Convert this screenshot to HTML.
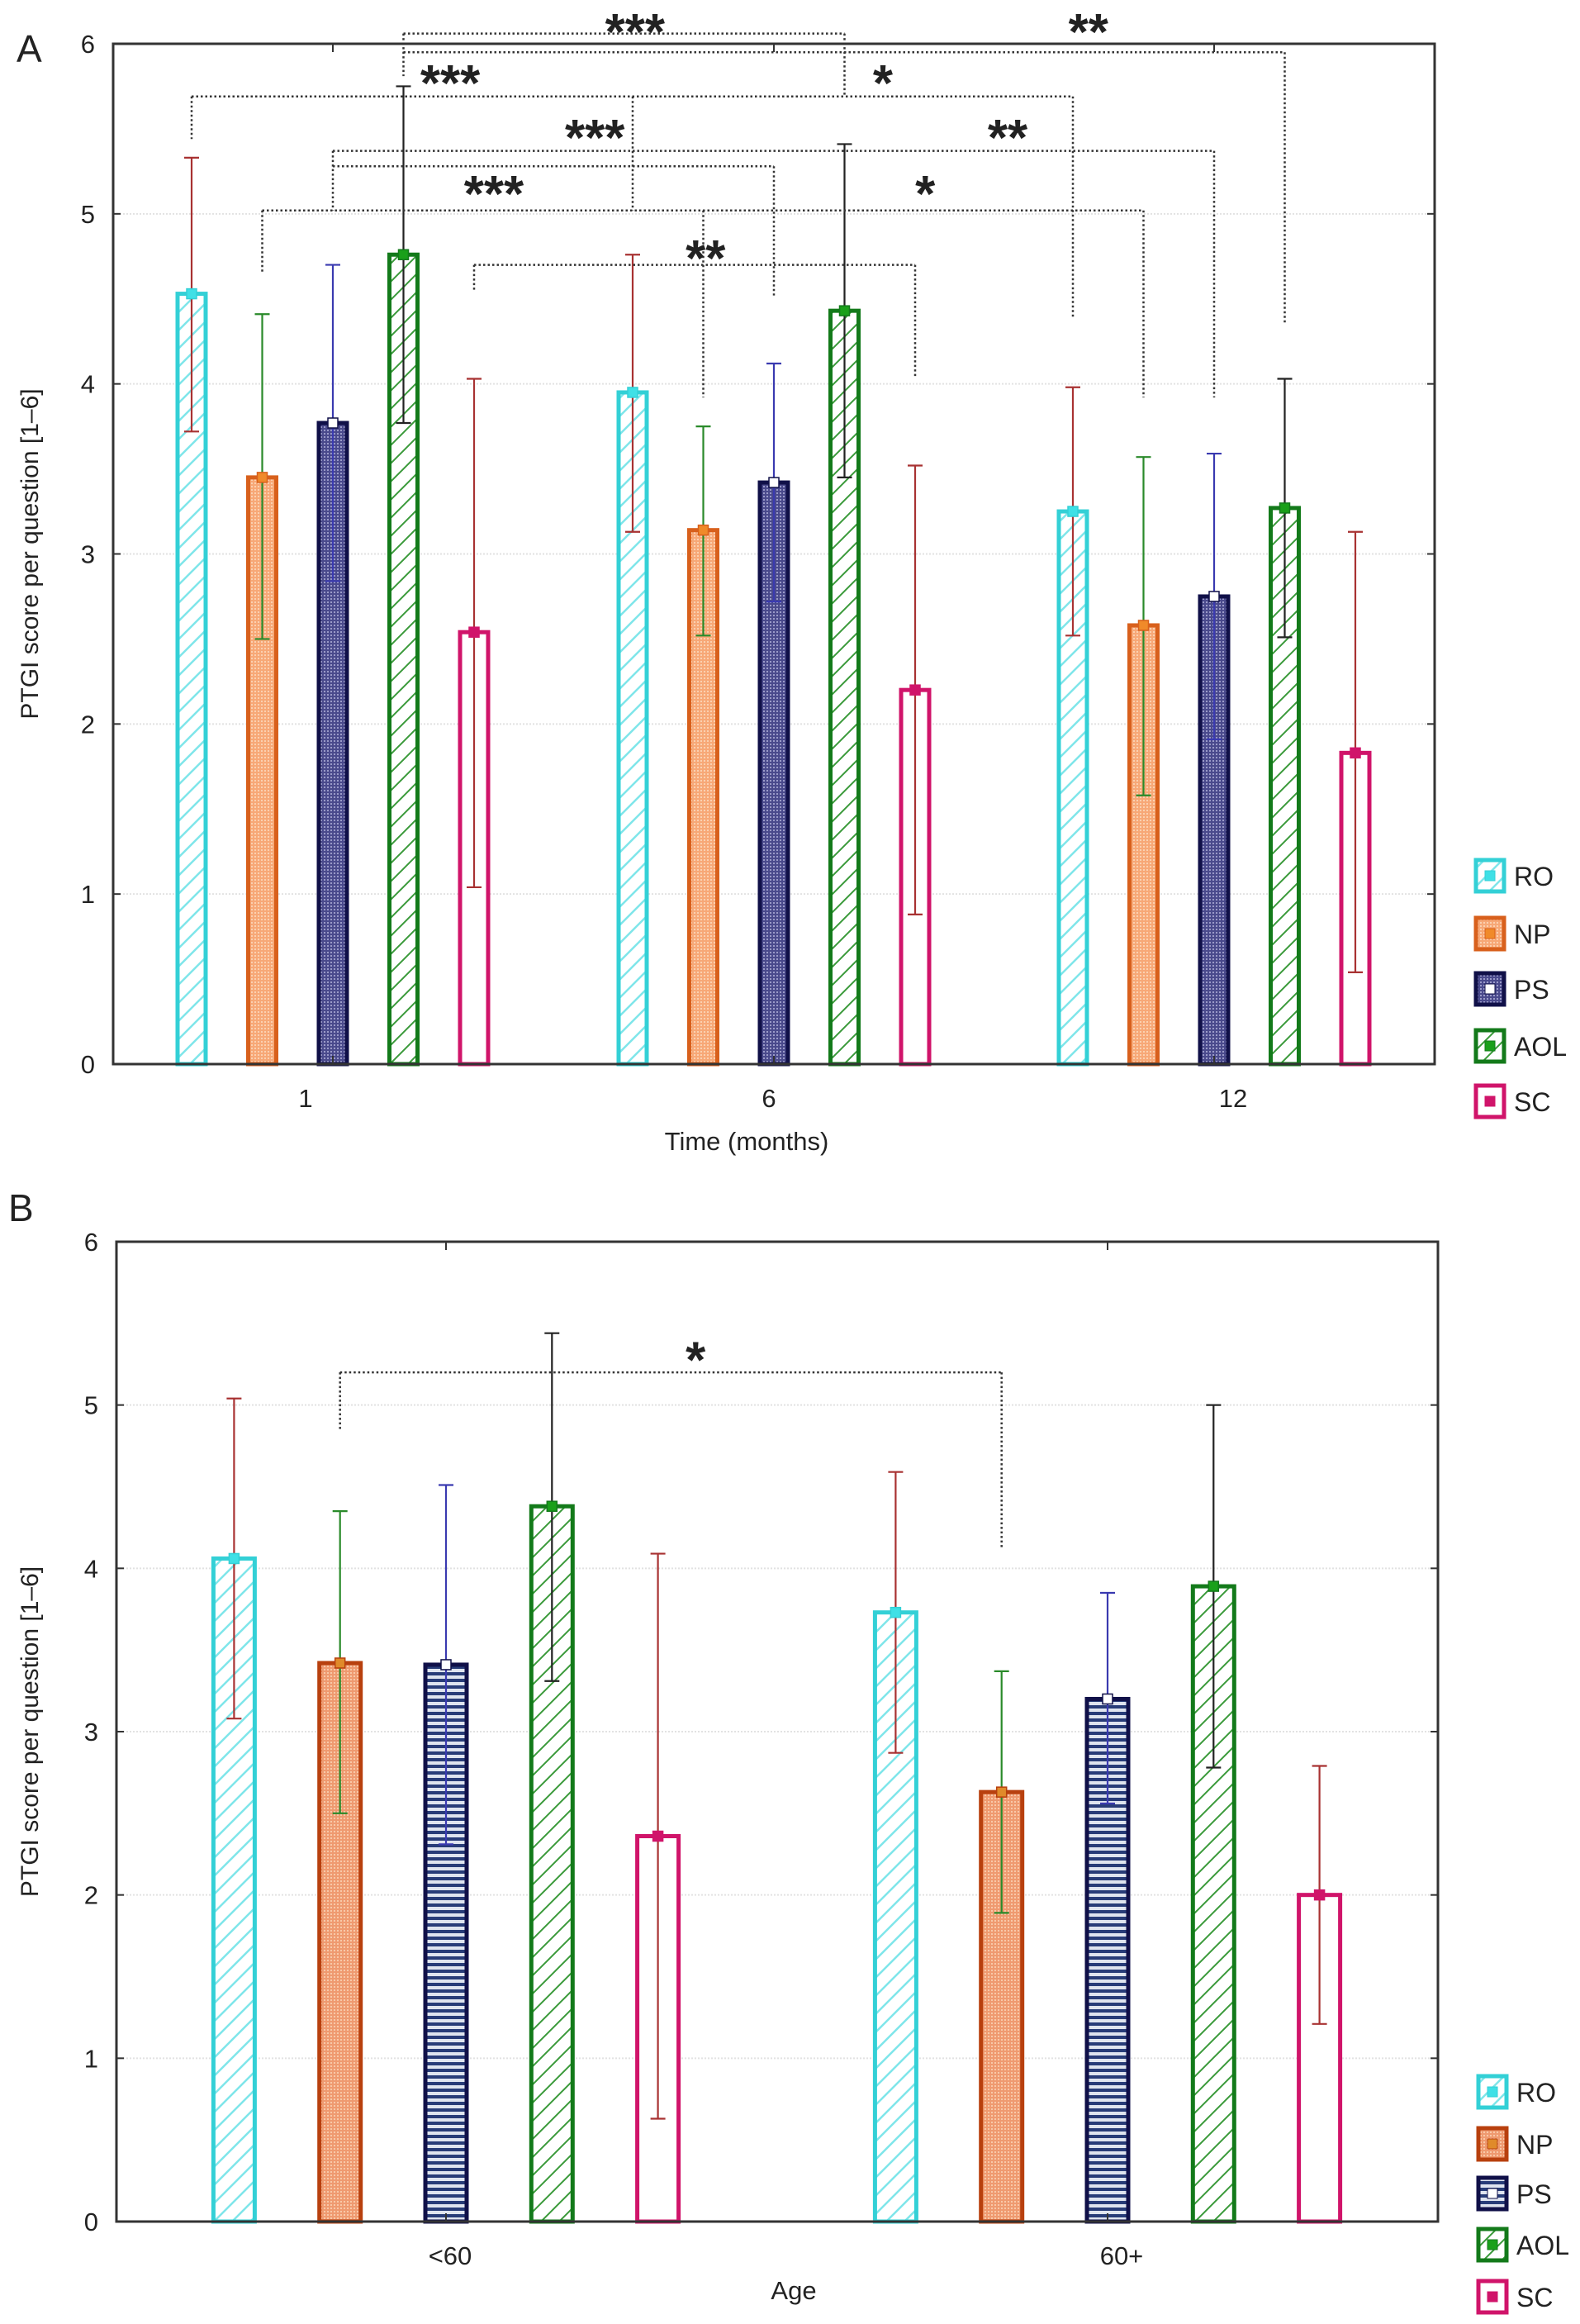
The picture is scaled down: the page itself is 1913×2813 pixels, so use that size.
<!DOCTYPE html>
<html><head><meta charset="utf-8"><style>
html,body{margin:0;padding:0;background:#fff}
svg{display:block}
text{font-family:"Liberation Sans",Arial,sans-serif;fill:#222}
</style></head><body>
<svg id="fig" width="1913" height="2813" viewBox="0 0 1913 2813" xmlns="http://www.w3.org/2000/svg">
<defs>
<pattern id="hatchC" patternUnits="userSpaceOnUse" width="22" height="22"><rect width="22" height="22" fill="#fff"/><path d="M-2,24 L24,-2 M-13,13 L13,-13 M9,35 L35,9" stroke="#7fe6ea" stroke-width="2.5"/></pattern>
<pattern id="hatchG" patternUnits="userSpaceOnUse" width="22" height="22"><rect width="22" height="22" fill="#fff"/><path d="M-2,24 L24,-2 M-13,13 L13,-13 M9,35 L35,9" stroke="#3a9a3a" stroke-width="2"/></pattern>
<pattern id="dotO" patternUnits="userSpaceOnUse" width="4" height="4"><rect width="4" height="4" fill="#f7a877"/><rect width="2" height="2" fill="#fbd0b0"/></pattern>
<pattern id="dotP" patternUnits="userSpaceOnUse" width="4" height="4"><rect width="4" height="4" fill="#4a4a8c"/><rect width="2" height="2" fill="#9a9ac8"/></pattern>
<pattern id="stripeP" patternUnits="userSpaceOnUse" width="6" height="8"><rect width="6" height="8" fill="#dfe4ef"/><rect width="6" height="4" fill="#283c78"/></pattern>
<pattern id="dotOB" patternUnits="userSpaceOnUse" width="4" height="4"><rect width="4" height="4" fill="#ef9a70"/><rect width="2" height="2" fill="#f8c8a8"/></pattern>
</defs>
</svg>
<script>
// ---------- data ----------
const seriesNames = ["RO","NP","PS","AOL","SC"];
const catsA = ["1","6","12"];
const meanA_RO  = [4.53, 3.95, 3.25];
const meanA_NP  = [3.45, 3.14, 2.58];
const meanA_PS  = [3.77, 3.42, 2.75];
const meanA_AOL = [4.76, 4.43, 3.27];
const meanA_SC  = [2.54, 2.20, 1.83];
const loA_RO  = [3.72, 3.13, 2.52], hiA_RO  = [5.33, 4.76, 3.98];
const loA_NP  = [2.50, 2.52, 1.58], hiA_NP  = [4.41, 3.75, 3.57];
const loA_PS  = [2.84, 2.72, 1.91], hiA_PS  = [4.70, 4.12, 3.59];
const loA_AOL = [3.77, 3.45, 2.51], hiA_AOL = [5.75, 5.41, 4.03];
const loA_SC  = [1.04, 0.88, 0.54], hiA_SC  = [4.03, 3.52, 3.13];

const catsB = ["<60","60+"];
const meanB_RO  = [4.06, 3.73];
const meanB_NP  = [3.42, 2.63];
const meanB_PS  = [3.41, 3.20];
const meanB_AOL = [4.38, 3.89];
const meanB_SC  = [2.36, 2.00];
const loB_RO  = [3.08, 2.87], hiB_RO  = [5.04, 4.59];
const loB_NP  = [2.50, 1.89], hiB_NP  = [4.35, 3.37];
const loB_PS  = [2.31, 2.56], hiB_PS  = [4.51, 3.85];
const loB_AOL = [3.31, 2.78], hiB_AOL = [5.44, 5.00];
const loB_SC  = [0.63, 1.21], hiB_SC  = [4.09, 2.79];

const yTicks = [0,1,2,3,4,5,6];

const bracketsA_h = [
 [0,3,1,3,6.06],[0,3,2,3,5.95],[0,0,2,0,5.69],[0,2,2,2,5.37],[0,2,1,2,5.28],[0,1,2,1,5.02],[0,4,1,4,4.70]];
const bracketsA_v = [
 [0,0,5.69,5.44],[0,3,6.06,5.81],[1,3,6.06,5.69],[2,3,5.95,4.35],[2,0,5.69,4.39],[1,0,5.69,5.02],
 [0,2,5.37,5.02],[1,2,5.28,4.52],[2,2,5.37,3.92],[0,1,5.02,4.66],[2,1,5.02,3.92],[1,1,5.02,3.92],
 [0,4,4.70,4.54],[1,4,4.70,4.04]];
const starsA = [ // [label, level, group-float position]
 ["***",6.13,0.685],["**",6.13,1.713],["***",5.83,0.266],["*",5.83,1.247],["***",5.51,0.594],["**",5.51,1.53],["***",5.18,0.365],["*",5.18,1.343],["**",4.80,0.845]];

const starsB = [["*",5.34]];
const bracketB = [0,1,1,1,5.20,4.84,4.13];

const styA = [
 {fill:"url(#hatchC)",stroke:"#33d0d6",err:"#a83232",mk:"#3fe0e6"},
 {fill:"url(#dotO)",stroke:"#d8601c",err:"#2a8a2a",mk:"#f08a2a"},
 {fill:"url(#dotP)",stroke:"#101048",err:"#3a3ab0",mk:"#ffffff"},
 {fill:"url(#hatchG)",stroke:"#137a1a",err:"#222",mk:"#1aa01a"},
 {fill:"#fff",stroke:"#d0146a",err:"#a83232",mk:"#d0146a"}];
const styB = [
 styA[0],
 {fill:"url(#dotOB)",stroke:"#b8400e",err:"#2a8a2a",mk:"#e08a2a"},
 {fill:"url(#stripeP)",stroke:"#101048",err:"#3a3ab0",mk:"#ffffff"},
 styA[3], styA[4]];

const svg = document.getElementById('fig');
const NS = "http://www.w3.org/2000/svg";
function mk(tag, attrs, parent){const e=document.createElementNS(NS,tag);for(const k in attrs)e.setAttribute(k,attrs[k]);(parent||svg).appendChild(e);return e;}

function panel(cfg){
 const g = mk('g',{});
 
 
 const y = v => cfg.y0 - v*(cfg.y0-cfg.y6)/6;
 const x = (gi,si) => cfg.gx[gi] + (si-2)*cfg.step;
 yTicks.forEach(t=>{
  if(t>0 && t<6){const l=mk('line',{x1:cfg.left,x2:cfg.right,y1:y(t),y2:y(t),stroke:"#e2e2e2","stroke-width":2,"stroke-dasharray":"2 2"},g);
   
   }
  const tl=mk('line',{x1:cfg.left,x2:cfg.left+9,y1:y(t),y2:y(t),stroke:"#333","stroke-width":2},g);
  
  
  mk('line',{x1:cfg.right-9,x2:cfg.right,y1:y(t),y2:y(t),stroke:"#333","stroke-width":2},g);
  const tx=mk('text',{x:cfg.left-22,y:y(t)+11,"text-anchor":"end","font-size":31},g);
  tx.textContent=t;
  
  
 });
 cfg.cats.forEach((c,gi)=>{
  cfg.means.forEach((arr,si)=>{
   const st=cfg.sty[si], xc=x(gi,si), w=cfg.bw;
   const r=mk('rect',{x:xc-w/2,y:y(arr[gi]),width:w,height:y(0)-y(arr[gi]),fill:st.fill,stroke:st.stroke,"stroke-width":5},g);
   
   
  });
 });
 cfg.cats.forEach((c,gi)=>{
  cfg.means.forEach((arr,si)=>{
   const st=cfg.sty[si], xc=x(gi,si), lo=cfg.lo[si][gi], hi=cfg.hi[si][gi];
   const eg=mk('g',{stroke:st.err,"stroke-width":2.2},g);
   
   
   mk('line',{x1:xc,x2:xc,y1:y(lo),y2:y(hi)},eg);
   mk('line',{x1:xc-9,x2:xc+9,y1:y(lo),y2:y(lo)},eg);
   mk('line',{x1:xc-9,x2:xc+9,y1:y(hi),y2:y(hi)},eg);
   const m=mk('rect',{x:xc-6,y:y(arr[gi])-6,width:12,height:12,fill:st.mk,stroke:st.stroke,"stroke-width":1.5},g);
   
   
  });
 });
 const ax=mk('rect',{x:cfg.left,y:cfg.y6,width:cfg.right-cfg.left,height:cfg.y0-cfg.y6,fill:"none",stroke:"#333","stroke-width":3},g);
 
 
 cfg.cats.forEach((c,gi)=>{
  mk('line',{x1:cfg.gx[gi],x2:cfg.gx[gi],y1:cfg.y6,y2:cfg.y6+10,stroke:"#333","stroke-width":2},g);
  mk('line',{x1:cfg.gx[gi],x2:cfg.gx[gi],y1:cfg.y0,y2:cfg.y0-10,stroke:"#333","stroke-width":2},g);
  const t=mk('text',{x:cfg.lx[gi],y:cfg.y0+52,"text-anchor":"middle","font-size":31},g);
  t.textContent=c;
  
  
 });
 const yl=mk('text',{x:0,y:0,"text-anchor":"middle","font-size":30,transform:`translate(46,${(cfg.y0+cfg.y6)/2}) rotate(-90)`},g);
 yl.textContent="PTGI score per question [1\u20136]";
 
 
 const xl=mk('text',{x:cfg.xtx,y:cfg.xty,"text-anchor":"middle","font-size":31},g);
 xl.textContent=cfg.xtitle;
 
 
 const pl=mk('text',{x:cfg.plx,y:cfg.ply,"font-size":46},g);
 pl.textContent=cfg.plabel;
 
 
 seriesNames.forEach((n,si)=>{
  const st=cfg.sty[si], ly=cfg.legY[si];
  const lg=mk('g',{},g);
  
  
  mk('rect',{x:cfg.legX,y:ly,width:34,height:38,fill:st.fill,stroke:st.stroke,"stroke-width":5},lg);
  mk('rect',{x:cfg.legX+11,y:ly+13,width:12,height:12,fill:st.mk,stroke:st.stroke,"stroke-width":1},lg);
  const t=mk('text',{x:cfg.legX+46,y:ly+31,"font-size":32},lg);
  t.textContent=n;
 });
 return {y,x,g,cfg};
}

const A = panel({name:"panel-a-chart",left:137,right:1737,y0:1288,y6:53,gx:[403,937,1470],lx:[370,931,1493],step:85.5,bw:34,
 cats:catsA,means:[meanA_RO,meanA_NP,meanA_PS,meanA_AOL,meanA_SC],
 lo:[loA_RO,loA_NP,loA_PS,loA_AOL,loA_SC],hi:[hiA_RO,hiA_NP,hiA_PS,hiA_AOL,hiA_SC],sty:styA,
 xtitle:"Time (months)",xtx:904,xty:1392,plabel:"A",plx:20,ply:75,legX:1787,legY:[1041,1111,1178,1247,1314]});
const B = panel({name:"panel-b-chart",left:141,right:1741,y0:2689,y6:1503,gx:[540,1341],lx:[545,1358],step:128.3,bw:50,
 cats:catsB,means:[meanB_RO,meanB_NP,meanB_PS,meanB_AOL,meanB_SC],
 lo:[loB_RO,loB_NP,loB_PS,loB_AOL,loB_SC],hi:[hiB_RO,hiB_NP,hiB_PS,hiB_AOL,hiB_SC],sty:styB,
 xtitle:"Age",xtx:961,xty:2783,plabel:"B",plx:10,ply:1478,legX:1790,legY:[2513,2576,2636,2698,2761]});

const dot={stroke:"#333","stroke-width":2.5,"stroke-dasharray":"2.5 3",fill:"none"};
const bgA=mk('g',dot);


bracketsA_h.forEach(b=>{mk('line',{x1:A.x(b[0],b[1]),x2:A.x(b[2],b[3]),y1:A.y(b[4]),y2:A.y(b[4])},bgA);});
bracketsA_v.forEach(b=>{mk('line',{x1:A.x(b[0],b[1]),x2:A.x(b[0],b[1]),y1:A.y(b[2]),y2:A.y(b[3])},bgA);});
starsA.forEach(s=>{
 const gx = A.cfg.gx[0] + s[2]*(A.cfg.gx[1]-A.cfg.gx[0]);
 const t=mk('text',{x:gx,y:A.y(s[1])+34,"text-anchor":"middle","font-size":62,"font-weight":"bold",fill:"#111"});
 t.textContent=s[0];
 
 
});
const bgB=mk('g',dot);


{const b=bracketB;const x1=B.x(b[0],b[1]),x2=B.x(b[2],b[3]);
 mk('line',{x1:x1,x2:x2,y1:B.y(b[4]),y2:B.y(b[4])},bgB);
 mk('line',{x1:x1,x2:x1,y1:B.y(b[4]),y2:B.y(b[5])},bgB);
 mk('line',{x1:x2,x2:x2,y1:B.y(b[4]),y2:B.y(b[6])},bgB);
 const t=mk('text',{x:(x1+x2)/2+30,y:B.y(starsB[0][1])+34,"text-anchor":"middle","font-size":62,"font-weight":"bold",fill:"#111"});
 t.textContent=starsB[0][0];
 
 
}
</script>
</body></html>
